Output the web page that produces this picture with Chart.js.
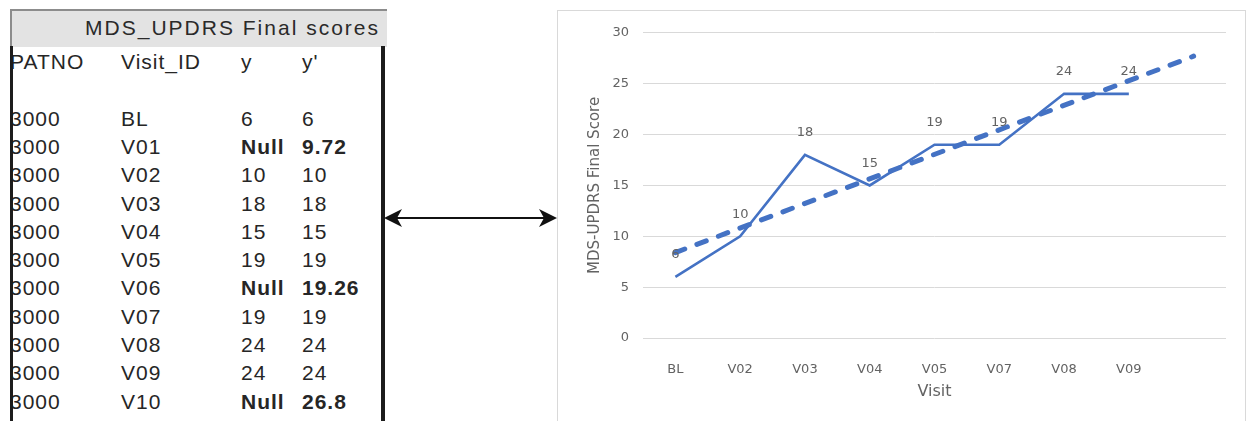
<!DOCTYPE html>
<html>
<head>
<meta charset="utf-8">
<title>MDS_UPDRS Final scores</title>
<script src="https://cdn.jsdelivr.net/npm/chart.js@4.4.1/dist/chart.umd.min.js"></script>
<style>
  html, body { margin: 0; padding: 0; background: #fff; }
  body {
    width: 1246px; height: 421px; position: relative; overflow: hidden;
    font-family: "Liberation Sans", Arial, sans-serif;
  }
  #sheetTitle {
    position: absolute; left: 10px; top: 9px; width: 375px; height: 36px;
    background: #e3e3e3; border-top: 2px solid #8c8c8c; border-left: 2px solid #8c8c8c;
  }
  #sheetTitle span {
    position: absolute; right: 7px; top: -1px; line-height: 36px;
    font-size: 21px; letter-spacing: 2px; color: #2a2a2a; white-space: nowrap;
  }
  .cell {
    position: absolute; height: 28px; line-height: 28px; font-size: 21px;
    letter-spacing: 1px; color: #262626; white-space: nowrap;
  }
  .cell.bold { font-weight: bold; }
  .edge { position: absolute; background: #1c1c1c; z-index: 2; }
  #arrow { position: absolute; left: 380px; top: 205px; }
  #chartBox {
    position: absolute; left: 557px; top: 10px; width: 687px; height: 420px;
    border: 1px solid #d9d9d9; border-bottom: none; background: #fff;
  }
  #chartWrap { position: relative; width: 687px; height: 400px; }
</style>
</head>
<body>
  <div id="sheetTitle"><span>MDS_UPDRS Final scores</span></div>
  <div id="sheet"></div>
  <div class="edge" style="left:10px; top:46px; width:3px; height:380px;"></div>
  <div class="edge" style="left:381px; top:46px; width:4px; height:380px;"></div>

  <svg id="arrow" width="180" height="26" viewBox="380 205 180 26">
    <line x1="395" y1="218" x2="546" y2="218" stroke="#111" stroke-width="2"/>
    <polygon points="384,218 402,209 397,218 402,227" fill="#111"/>
    <polygon points="557,218 539,209 544,218 539,227" fill="#111"/>
  </svg>

  <div id="chartBox">
    <div id="chartWrap"><canvas id="scoreChart"></canvas></div>
  </div>

<script>
// sheet columns
const patno = ['3000', '3000', '3000', '3000', '3000', '3000', '3000', '3000', '3000', '3000', '3000'];
const visitIds = ['BL', 'V01', 'V02', 'V03', 'V04', 'V05', 'V06', 'V07', 'V08', 'V09', 'V10'];
const yValues = ['6', 'Null', '10', '18', '15', '19', 'Null', '19', '24', '24', 'Null'];
const yPrime = ['6', '9.72', '10', '18', '15', '19', '19.26', '19', '24', '24', '26.8'];

// chart series
const visitLabels = ['BL', 'V02', 'V03', 'V04', 'V05', 'V07', 'V08', 'V09', ''];
const finalScores = [6, 10, 18, 15, 19, 19, 24, 24, null];
const trendScores = [8.4, null, null, null, null, null, null, null, 27.7];
const yMin = 0;
const yMax = 30;
const yStep = 5;

const colLeft = [10, 121, 241, 302];
const rowHeight = 28.3;
const firstRowMid = 62;

function addCell(text, col, row, bold) {
    const el = document.createElement('div');
    el.className = bold ? 'cell bold' : 'cell';
    el.style.left = colLeft[col] + 'px';
    el.style.top = (firstRowMid + row * rowHeight - 14) + 'px';
    el.textContent = text;
    document.getElementById('sheet').appendChild(el);
}

// header, then one blank row, then the visits
['PATNO', 'Visit_ID', 'y', "y'"].forEach((h, c) => addCell(h, c, 0, false));
visitIds.forEach((v, i) => {
    const row = i + 2;
    const missing = yValues[i] === 'Null';
    addCell(patno[i], 0, row, false);
    addCell(v, 1, row, false);
    addCell(yValues[i], 2, row, missing);
    addCell(yPrime[i], 3, row, missing);
});

const tickColor = '#636363';
Chart.defaults.font.family = '"DejaVu Sans", sans-serif';

// value labels above the score line
const pointLabels = {
    id: 'pointLabels',
    afterDatasetsDraw(chart) {
        const ctx = chart.ctx;
        const meta = chart.getDatasetMeta(0);
        ctx.save();
        ctx.font = '13px "DejaVu Sans"';
        ctx.fillStyle = tickColor;
        ctx.textAlign = 'center';
        ctx.textBaseline = 'middle';
        meta.data.forEach((pt, i) => {
            const v = finalScores[i];
            if (v === null) return;
            ctx.fillText(String(v), pt.x, pt.y - 22);
        });
        ctx.restore();
    }
};

const ctx = document.getElementById('scoreChart').getContext('2d');
new Chart(ctx, {
    type: 'line',
    data: {
        labels: visitLabels,
        datasets: [{
            label: 'MDS-UPDRS Final Score',
            data: finalScores,
            borderColor: '#4472c4',
            borderWidth: 2.6,
            pointRadius: 0,
            tension: 0,
            order: 1
        }, {
            label: 'Linear trend',
            data: trendScores,
            borderColor: '#4472c4',
            borderWidth: 5,
            borderDash: [10, 13],
            borderCapStyle: 'round',
            pointRadius: 0,
            spanGaps: true,
            order: 0
        }]
    },
    options: {
        responsive: true,
        maintainAspectRatio: false,
        animation: false,
        layout: { padding: { left: 22, right: 19, top: 21, bottom: 7 } },
        plugins: {
            legend: { display: false },
            tooltip: { enabled: false }
        },
        scales: {
            x: {
                offset: true,
                grid: { display: false },
                border: { display: false },
                ticks: { color: tickColor, font: { size: 13 }, padding: 16, maxRotation: 0 },
                title: { display: true, text: 'Visit', color: tickColor, font: { size: 16 }, padding: { top: 0, bottom: 3 } },
                afterFit(scale) { scale.height = 66; }
            },
            y: {
                min: yMin,
                max: yMax,
                ticks: { stepSize: yStep, color: tickColor, font: { size: 13 }, padding: 14 },
                grid: { color: '#d9d9d9', lineWidth: 1, drawTicks: false },
                border: { display: false },
                title: { display: true, text: 'MDS-UPDRS Final Score', color: tickColor, font: { size: 15 }, padding: { top: 6, bottom: 0 } },
                afterFit(scale) { scale.width = 63; }
            }
        }
    },
    plugins: [pointLabels]
});
</script>
</body>
</html>
